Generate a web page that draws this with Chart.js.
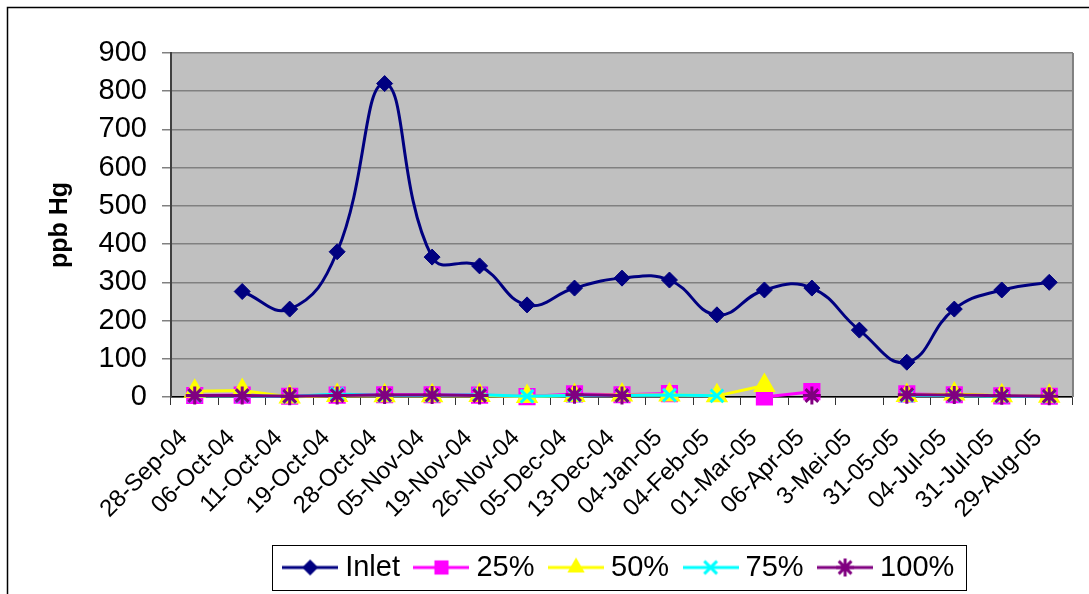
<!DOCTYPE html>
<html>
<head>
<meta charset="utf-8">
<title>ppb Hg</title>
<script src="https://cdn.jsdelivr.net/npm/chart.js@4.4.1/dist/chart.umd.min.js"></script>
<style>
    html, body { margin: 0; padding: 0; background: #fff; }
    #wrap { width: 1089px; height: 594px; }
</style>
</head>
<body>
<div id="wrap"><canvas id="hgChart" width="1089" height="594"></canvas></div>
<script>
// data
const dateLabels = ['28-Sep-04', '06-Oct-04', '11-Oct-04', '19-Oct-04', '28-Oct-04', '05-Nov-04',
    '19-Nov-04', '26-Nov-04', '05-Dec-04', '13-Dec-04', '04-Jan-05', '04-Feb-05', '01-Mar-05',
    '06-Apr-05', '3-Mei-05', '31-05-05', '04-Jul-05', '31-Jul-05', '29-Aug-05'];
const yTicks = [0, 100, 200, 300, 400, 500, 600, 700, 800, 900];

const inletValues = [null, 276, 230, 380, 820, 366, 343, 241, 285, 311, 306, 215, 280, 285, 175, 91, 230, 280, 300];
const pct25Values = [4, 5, 2, 5, 6, 6, 5, 1, 8, 6, 9, null, 0, 14, null, 8, 6, 3, 2];
const pct50Values = [15, 17, 0, 4, 3, 3, 4, 1, 4, 5, 5, 3, 30, null, null, 4, 8, 3, 2];
const pct75Values = [3, 3, 1, 8, 4, 4, 6, 2, 4, 4, 5, 3, null, null, null, 4, 4, 2, 1];
const pct100Values = [4, 4, 2, 4, 5, 5, 4, null, 6, 4, null, null, null, 4, null, 6, 5, 3, 2];

const FONT = "'Liberation Sans', Arial, sans-serif";

// little line+marker pictures for the legend
function drawMarker(g, style, x, y, r, color) {
    g.fillStyle = color;
    g.strokeStyle = color;
    g.lineWidth = 3;
    g.beginPath();
    if (style === 'rectRot') {
        g.moveTo(x, y - r); g.lineTo(x + r, y); g.lineTo(x, y + r); g.lineTo(x - r, y);
        g.closePath(); g.fill();
    } else if (style === 'rect') {
        const s = r * Math.SQRT1_2;
        g.rect(x - s, y - s, 2 * s, 2 * s); g.fill();
    } else if (style === 'triangle') {
        for (let k = 0; k < 3; k++) {
            const a = k * 2 * Math.PI / 3;
            const px = x + Math.sin(a) * r, py = y - Math.cos(a) * r;
            if (k === 0) g.moveTo(px, py); else g.lineTo(px, py);
        }
        g.closePath(); g.fill();
    } else {
        const d = r * Math.SQRT1_2;
        g.moveTo(x - d, y - d); g.lineTo(x + d, y + d);
        g.moveTo(x + d, y - d); g.lineTo(x - d, y + d);
        if (style === 'star') {
            g.moveTo(x, y - r); g.lineTo(x, y + r);
            g.moveTo(x - r, y); g.lineTo(x + r, y);
        }
        g.stroke();
    }
}

function makeSample(color, style, r) {
    const c = document.createElement('canvas');
    c.width = 56; c.height = 22;
    const g = c.getContext('2d');
    g.strokeStyle = color; g.lineWidth = 3;
    g.beginPath(); g.moveTo(0, 11); g.lineTo(56, 11); g.stroke();
    drawMarker(g, style, 28, 11, r, color);
    return c;
}

function series(label, data, color, style, radius, order) {
    return {
        label: label,
        data: data,
        borderColor: color,
        backgroundColor: color,
        borderWidth: 3,
        pointStyle: style,
        pointRadius: radius,
        pointHoverRadius: radius,
        pointBackgroundColor: color,
        pointBorderColor: color,
        pointBorderWidth: 3,
        tension: 0,
        spanGaps: false,
        clip: false,
        order: order
    };
}

const datasets = [
    series('Inlet', inletValues, '#000080', 'rectRot', 8, 5),
    series('25%', pct25Values, '#FF00FF', 'rect', 10, 4),
    series('50%', pct50Values, '#FFFF00', 'triangle', 10, 3),
    series('75%', pct75Values, '#00FFFF', 'crossRot', 9, 2),
    series('100%', pct100Values, '#800080', 'star', 9, 1)
];
datasets[0].tension = 0.45;
datasets[0].pointBorderWidth = 1;

const samples = datasets.map(ds => makeSample(ds.borderColor, ds.pointStyle, ds.pointRadius));

// background, plot fill and the boxes round chart and legend
const framePlugin = {
    id: 'frame',
    beforeDraw(chart) {
        const {ctx, chartArea} = chart;
        ctx.save();
        ctx.fillStyle = '#fff';
        ctx.fillRect(0, 0, chart.width, chart.height);
        ctx.strokeStyle = '#000';
        ctx.lineWidth = 1.5;
        ctx.strokeRect(7.5, 7.5, 1100, 600);
        ctx.fillStyle = '#C0C0C0';
        ctx.fillRect(chartArea.left, chartArea.top, chartArea.right - chartArea.left, chartArea.bottom - chartArea.top);
        ctx.restore();
    },
    afterDraw(chart) {
        const {ctx, chartArea, legend} = chart;
        ctx.save();
        ctx.strokeStyle = '#808080';
        ctx.lineWidth = 2;
        ctx.beginPath();
        ctx.moveTo(chartArea.right, chartArea.top);
        ctx.lineTo(chartArea.right, chartArea.bottom);
        ctx.stroke();
        const boxes = legend.legendHitBoxes;
        if (boxes && boxes.length) {
            const first = boxes[0], last = boxes[boxes.length - 1];
            const x1 = Math.round(first.left - 18) + 0.5;
            const x2 = Math.round(last.left + last.width + 12) + 0.5;
            ctx.strokeStyle = '#000';
            ctx.lineWidth = 1;
            ctx.strokeRect(x1, 545.5, x2 - x1, 45);
        }
        ctx.restore();
    }
};

new Chart(document.getElementById('hgChart'), {
    type: 'line',
    data: { labels: dateLabels, datasets: datasets },
    options: {
        responsive: false,
        animation: false,
        layout: { padding: { left: 8, right: 15, top: 53, bottom: 2 } },
        plugins: {
            tooltip: { enabled: false },
            title: { display: false },
            legend: {
                position: 'bottom',
                fullSize: false,
                labels: {
                    usePointStyle: true,
                    pointStyleWidth: 41,
                    padding: 21,
                    color: '#000',
                    font: { family: FONT, size: 29 },
                    generateLabels: chart => chart.data.datasets.map((ds, i) => ({
                        text: ds.label,
                        pointStyle: samples[i],
                        fillStyle: ds.borderColor,
                        strokeStyle: ds.borderColor,
                        lineWidth: 0,
                        hidden: false,
                        datasetIndex: i
                    }))
                }
            }
        },
        scales: {
            x: {
                offset: true,
                afterFit: scale => { scale.height = 135; },
                grid: { offset: true, drawOnChartArea: false, drawTicks: true, tickLength: 8, color: '#333', lineWidth: 1 },
                border: { display: true, color: '#000', width: 1.5 },
                ticks: {
                    autoSkip: false,
                    maxRotation: 45,
                    minRotation: 45,
                    padding: 19,
                    labelOffset: -11,
                    color: '#000',
                    font: { family: FONT, size: 24 }
                }
            },
            y: {
                min: 0,
                max: 900,
                afterFit: scale => { scale.width = 163; },
                afterBuildTicks: scale => { scale.ticks = yTicks.map(v => ({ value: v })); },
                grid: { color: '#808080', lineWidth: 1.5, tickLength: 9 },
                border: { display: true, color: '#404040', width: 2 },
                ticks: {
                    padding: 15,
                    color: '#000',
                    font: { family: FONT, size: 29 }
                },
                title: {
                    display: true,
                    text: 'ppb Hg',
                    color: '#000',
                    font: { family: FONT, size: 25, weight: 'bold' },
                    padding: { top: 37, bottom: 0 }
                }
            }
        }
    },
    plugins: [framePlugin]
});
</script>
</body>
</html>
